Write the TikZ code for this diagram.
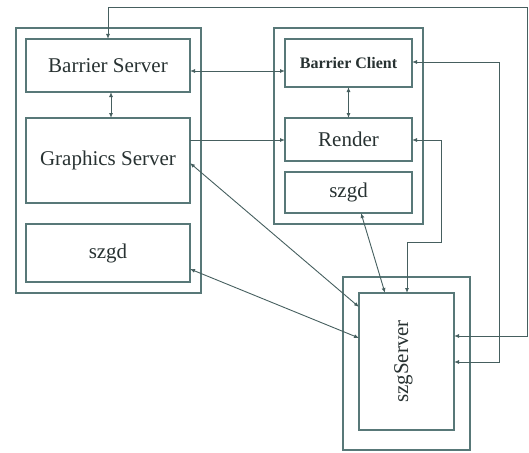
\documentclass[tikz,border=0pt]{standalone}
\usepackage{fontspec}
\setmainfont{Liberation Serif}
\usetikzlibrary{arrows.meta}
\definecolor{ln}{RGB}{88,120,120}
\definecolor{cn}{RGB}{70,95,95}
\definecolor{tx}{RGB}{40,50,50}
\tikzset{
  box/.style={draw=ln, line width=1.3pt, inner sep=0pt, outer sep=0pt, text=tx, font=\fontsize{21}{24}\selectfont, anchor=center},
  conn/.style={draw=cn, line width=0.9pt, {Latex[length=5pt,width=4pt]}-{Latex[length=5pt,width=4pt]}},
  conn1/.style={draw=cn, line width=0.9pt, -{Latex[length=5pt,width=4pt]}}
}
\begin{document}
\begin{tikzpicture}[x=1pt,y=-1pt]
\useasboundingbox (0,0) rectangle (529,452);
% left group
\node[box, minimum width=185, minimum height=265] (lo) at (108.5,160.5) {};
\node[box, minimum width=164, minimum height=53] (bs) at (108,65.5) {Barrier Server};
\node[box, minimum width=164, minimum height=85] (gs) at (108,160.5) {Graphics Server};
\node[box, minimum width=164, minimum height=58] (szl) at (108,253) {szgd};
% right group
\node[box, minimum width=149, minimum height=196] (ro) at (348.5,126) {};
\node[box, minimum width=127, minimum height=48, font=\fontsize{16}{19}\selectfont\bfseries] (bc) at (348.5,63) {Barrier Client};
\node[box, minimum width=127, minimum height=43] (rd) at (348.5,139.5) {Render};
\node[box, minimum width=127, minimum height=41] (szr) at (348.5,192.5) {szgd};
% szgServer
\node[box, minimum width=127, minimum height=173] (so) at (406.5,363.5) {};
\node[box, minimum width=95, minimum height=137] (si) at (406.5,361.5) {};
\node[text=tx, font=\fontsize{21}{24}\selectfont, rotate=90, anchor=center] (silabel) at ([xshift=-3]si.center) {szgServer};
% connectors
\draw[conn] (bs.east |- 0,71) -- (bc.west |- 0,71);
\draw[conn] (bs.south -| 111,0) -- (gs.north -| 111,0);
\draw[conn] (bc.south) -- (rd.north);
\draw[conn1] (gs.east |- 0,140) -- (rd.west |- 0,140);
\draw[conn] (gs.east |- 0,163) -- (si.west |- 0,307);
\draw[conn] (szl.east |- 0,269) -- (si.west |- 0,338);
\draw[conn] (szr.south -| 361,0) -- (si.north -| 385,0);
\draw[conn] (rd.east |- 0,140) -- (441,140) -- (441,242) -- (407,242) -- (si.north -| 407,0);
\draw[conn] (bc.east |- 0,62) -- (499,62) -- (499,362) -- (si.east |- 0,362);
\draw[conn] (bs.north -| 108,0) -- (108,7) -- (527,7) -- (527,336) -- (si.east |- 0,336);
\end{tikzpicture}
\end{document}
